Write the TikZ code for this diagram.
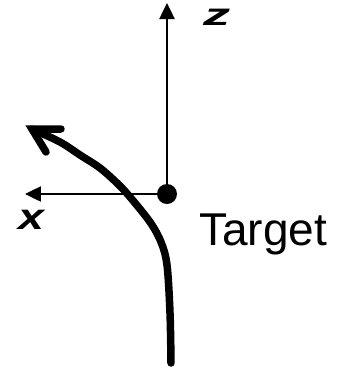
\documentclass[tikz,border=0pt]{standalone}
\usepackage{fontspec}
\setmainfont{Liberation Sans}
\usetikzlibrary{arrows.meta}
\begin{document}
\begin{tikzpicture}[x=1pt,y=-1pt,
  axis/.style={line width=2.5pt,-{Triangle[length=16pt,width=15pt]}},
  path/.style={line width=7.5pt,line cap=round,line join=round},
  head/.style={line width=7.5pt,line cap=round,line join=miter},
  axlabel/.style={inner sep=0pt}]
\useasboundingbox (0,0) rectangle (341,368);
\node[circle,fill=black,minimum size=20pt,inner sep=0pt] (target) at (167,194) {};
\coordinate (ztip) at (167,3);
\coordinate (xtip) at (25,194);
\draw[axis] (target.center) -- (ztip);
\draw[axis] (target.center) -- (xtip);
\draw[path] plot[smooth,tension=0.55] coordinates {(171,363) (170,313) (167,265) (161,242) (150,222) (130,197) (118,184) (100,168) (80,155) (60,142) (32,129)};
\coordinate (tip) at (32,129);
\coordinate (barbA) at (61,129);
\coordinate (barbB) at (46,152);
\draw[head] (barbA) -- (tip) -- (barbB);
\node[axlabel,font=\fontsize{31}{31}\selectfont\bfseries\itshape] (zl) at (216.7,17) {\scalebox{1.75}[1]{z}};
\node[axlabel,font=\fontsize{36.6}{36}\selectfont\bfseries\itshape] (xl) at (31,219.5) {\scalebox{1.27}[1]{x}};
\node[anchor=base west,inner sep=0pt,font=\fontsize{46}{46}\selectfont] (tl) at (199,245) {Target};
\end{tikzpicture}
\end{document}
